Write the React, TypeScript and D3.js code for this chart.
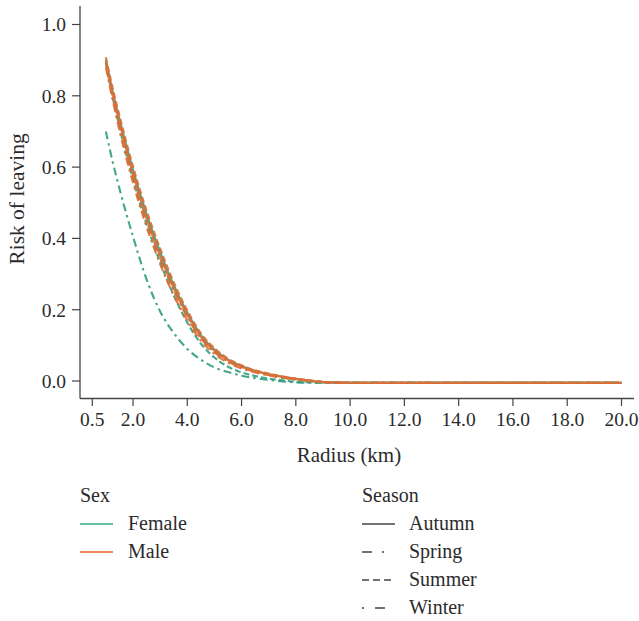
import React from "react";
import * as d3 from "d3";

const radius = [1.0, 1.25, 1.5, 2, 2.5, 3, 3.5, 4, 4.5, 5, 5.5, 6, 6.5, 7, 7.5, 8, 8.5, 9, 10, 12, 14, 16, 18, 20];

const maleAutumn = [0.895, 0.805, 0.725, 0.58, 0.455, 0.35, 0.26, 0.185, 0.124, 0.085, 0.058, 0.04, 0.028, 0.019, 0.012, 0.006, 0.001, -0.003, -0.005, -0.005, -0.005, -0.005, -0.005, -0.005];
const maleSpring = [0.88, 0.788, 0.703, 0.556, 0.432, 0.328, 0.241, 0.17, 0.113, 0.076, 0.051, 0.035, 0.024, 0.016, 0.009, 0.004, 0.0, -0.004, -0.005, -0.005, -0.005, -0.005, -0.005, -0.005];
const maleSummer = [0.908, 0.822, 0.745, 0.602, 0.478, 0.372, 0.277, 0.198, 0.134, 0.092, 0.063, 0.044, 0.03, 0.021, 0.013, 0.007, 0.002, -0.002, -0.005, -0.005, -0.005, -0.005, -0.005, -0.005];
const maleWinter = [0.89, 0.8, 0.72, 0.574, 0.45, 0.345, 0.254, 0.18, 0.12, 0.081, 0.055, 0.038, 0.026, 0.017, 0.01, 0.004, 0.0, -0.003, -0.005, -0.005, -0.005, -0.005, -0.005, -0.005];
const femaleAutumn = [0.9, 0.812, 0.735, 0.592, 0.468, 0.362, 0.269, 0.192, 0.129, 0.088, 0.06, 0.042, 0.028, 0.019, 0.012, 0.006, 0.001, -0.003, -0.005, -0.005, -0.005, -0.005, -0.005, -0.005];
const femaleSpring = [0.7, 0.615, 0.54, 0.405, 0.285, 0.195, 0.135, 0.09, 0.06, 0.038, 0.025, 0.015, 0.008, 0.003, -0.001, -0.004, -0.005, -0.005, -0.005, -0.005, -0.005, -0.005, -0.005, -0.005];
const femaleSummer = [0.893, 0.797, 0.712, 0.565, 0.44, 0.333, 0.24, 0.164, 0.105, 0.066, 0.04, 0.024, 0.014, 0.007, 0.002, -0.002, -0.004, -0.005, -0.005, -0.005, -0.005, -0.005, -0.005, -0.005];
const femaleWinter = [0.892, 0.803, 0.722, 0.577, 0.452, 0.347, 0.256, 0.182, 0.121, 0.082, 0.056, 0.039, 0.026, 0.017, 0.01, 0.005, 0.001, -0.003, -0.005, -0.005, -0.005, -0.005, -0.005, -0.005];

const xTicks = [0.5, 2, 4, 6, 8, 10, 12, 14, 16, 18, 20];
const yTicks = [0, 0.2, 0.4, 0.6, 0.8, 1.0];
const sexes = ["Female", "Male"];
const seasons = ["Autumn", "Spring", "Summer", "Winter"];

const curveColor: Record<string, string> = { Female: "#2f9f7c", Male: "#dd6e36" };
const legendColor: Record<string, string> = { Female: "#69c2a5", Male: "#ea875b" };
const legendDash: Record<string, string> = {
  Autumn: "none",
  Spring: "10,10,2,11",
  Summer: "7,4",
  Winter: "2,11,10,10",
};
const plotDash: Record<string, string> = {
  Autumn: "none",
  Spring: "8,4,2.5,4",
  Summer: "6,3",
  Winter: "2,4,8,4",
};

const series = [
  { sex: "Female", season: "Autumn", values: femaleAutumn },
  { sex: "Female", season: "Spring", values: femaleSpring },
  { sex: "Female", season: "Summer", values: femaleSummer },
  { sex: "Female", season: "Winter", values: femaleWinter },
  { sex: "Male", season: "Autumn", values: maleAutumn },
  { sex: "Male", season: "Spring", values: maleSpring },
  { sex: "Male", season: "Summer", values: maleSummer },
  { sex: "Male", season: "Winter", values: maleWinter },
];

const W = 639;
const H = 621;
const FONT = "'Liberation Serif', 'Times New Roman', serif";
const TXT = "#2b2b2b";
const AX = "#444";

export default function App() {
  const x = d3.scaleLinear().domain([0.5, 20]).range([92.3, 621.5]);
  const y = d3.scaleLinear().domain([0, 1]).range([381, 24.5]);
  const axisLeft = 80;
  const axisBottom = 398.5;

  const line = d3
    .line<number>()
    .x((_, i) => x(radius[i]))
    .y((v) => y(v))
    .curve(d3.curveMonotoneX);

  return (
    <svg
      width={W}
      height={H}
      style={{ position: "absolute", left: 0, top: 0, background: "#fff" }}
      fontFamily={FONT}
    >
      <rect x={0} y={0} width={W} height={H} fill="#fff" />
      {/* axes */}
      <line x1={axisLeft} x2={axisLeft} y1={6} y2={axisBottom} stroke={AX} strokeWidth={1.3} />
      <line x1={axisLeft} x2={634} y1={axisBottom} y2={axisBottom} stroke={AX} strokeWidth={1.3} />
      {yTicks.map((t) => (
        <g key={"y" + t}>
          <line x1={72} x2={axisLeft} y1={y(t)} y2={y(t)} stroke={AX} strokeWidth={1.2} />
          <text x={66} y={y(t)} dy="0.35em" textAnchor="end" fontSize={19.5} fill={TXT}>
            {t.toFixed(1)}
          </text>
        </g>
      ))}
      {xTicks.map((t) => (
        <g key={"x" + t}>
          <line x1={x(t)} x2={x(t)} y1={axisBottom} y2={406} stroke={AX} strokeWidth={1.2} />
          <text x={x(t)} y={426} textAnchor="middle" fontSize={19.5} fill={TXT}>
            {t.toFixed(1)}
          </text>
        </g>
      ))}
      <text x={349} y={462} textAnchor="middle" fontSize={21} fill={TXT}>
        Radius (km)
      </text>
      <text transform="translate(24,199) rotate(-90)" textAnchor="middle" fontSize={21.5} fill={TXT}>
        Risk of leaving
      </text>

      {/* curves */}
      {series.map((s) => (
        <path
          key={s.sex + s.season}
          d={line(s.values) || ""}
          fill="none"
          stroke={curveColor[s.sex]}
          strokeWidth={2.1}
          strokeDasharray={plotDash[s.season]}
          opacity={0.9}
        />
      ))}

      {/* legend: Sex */}
      <text x={80} y={502} fontSize={20} fill={TXT}>Sex</text>
      {sexes.map((s, i) => (
        <g key={s}>
          <line x1={80} x2={113} y1={524 + i * 28} y2={524 + i * 28} stroke={legendColor[s]} strokeWidth={2} />
          <text x={128} y={530 + i * 28} fontSize={20} fill={TXT}>{s}</text>
        </g>
      ))}
      {/* legend: Season */}
      <text x={362} y={502} fontSize={20} fill={TXT}>Season</text>
      {seasons.map((s, i) => (
        <g key={s}>
          <line
            x1={362}
            x2={395}
            y1={524 + i * 28}
            y2={524 + i * 28}
            stroke="#444"
            strokeWidth={1.6}
            strokeDasharray={legendDash[s]}
          />
          <text x={409} y={530 + i * 28} fontSize={20} fill={TXT}>{s}</text>
        </g>
      ))}
    </svg>
  );
}
